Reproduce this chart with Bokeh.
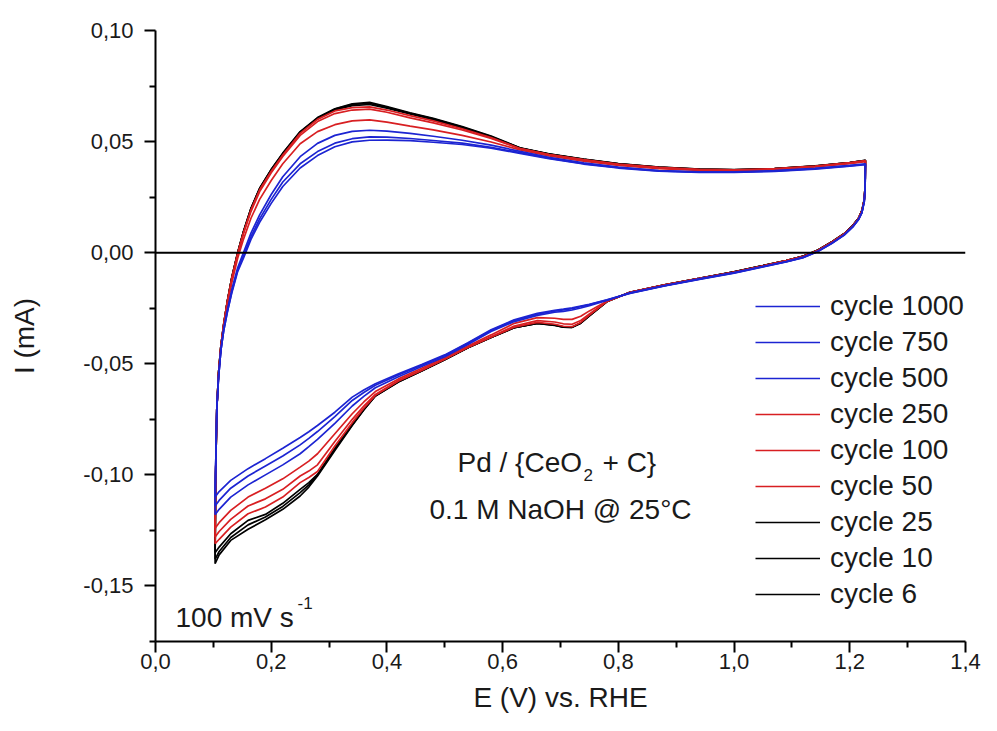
from bokeh.plotting import figure
from bokeh.models import (Range1d, FixedTicker, Span, Label, Legend, LegendItem,
                          CustomJSTickFormatter)
from bokeh.embed import file_html
from bokeh.resources import INLINE

# ---------------- data ----------------
# potential grid of the anodic (forward) sweep, V vs RHE
E_anodic = [0.103, 0.104, 0.106, 0.109, 0.113, 0.118, 0.124, 0.132, 0.142, 0.152,
            0.165, 0.18, 0.20, 0.22, 0.25, 0.28, 0.31, 0.34, 0.37, 0.40,
            0.44, 0.48, 0.53, 0.58, 0.63, 0.68, 0.74, 0.80, 0.87, 0.94,
            1.00, 1.07, 1.14, 1.20, 1.227]
# potential grid of the cathodic (backward) sweep
E_cathodic = [1.227, 1.2265, 1.225, 1.221, 1.215, 1.205, 1.19, 1.17, 1.145, 1.12,
              1.09, 1.05, 1.00, 0.94, 0.88, 0.82, 0.78, 0.75, 0.735, 0.72,
              0.705, 0.69, 0.66, 0.62, 0.58, 0.54, 0.50, 0.46, 0.42, 0.38,
              0.36, 0.34, 0.31, 0.28, 0.265, 0.25, 0.22, 0.19, 0.16, 0.13,
              0.11, 0.103]

cycles = ["cycle 1000", "cycle 750", "cycle 500", "cycle 250", "cycle 100",
          "cycle 50", "cycle 25", "cycle 10", "cycle 6"]
colors = ["#1c24d2", "#1c24d2", "#1c24d2", "#d81f22", "#d81f22", "#d81f22",
          "#000000", "#000000", "#000000"]

I_anodic_1000 = [-0.110, -0.096, -0.070, -0.056, -0.044, -0.035, -0.027, -0.0180, -0.0085, -0.0025,
                 0.0060, 0.0137, 0.0222, 0.0298, 0.0381, 0.0437, 0.0477, 0.0499, 0.0506, 0.0507,
                 0.0504, 0.0497, 0.0487, 0.0470, 0.0447, 0.0423, 0.0399, 0.0381, 0.0367, 0.0361,
                 0.0361, 0.0366, 0.0376, 0.0389, 0.0396]
I_anodic_750 = [-0.114, -0.096, -0.070, -0.056, -0.044, -0.035, -0.027, -0.0175, -0.0078, -0.0015,
                0.0072, 0.0152, 0.0240, 0.0318, 0.0400, 0.0455, 0.0493, 0.0513, 0.0521, 0.0520,
                0.0514, 0.0505, 0.0493, 0.0474, 0.0450, 0.0425, 0.0401, 0.0383, 0.0368, 0.0362,
                0.0362, 0.0367, 0.0378, 0.0391, 0.0398]
I_anodic_500 = [-0.118, -0.097, -0.070, -0.056, -0.044, -0.034, -0.026, -0.0165, -0.0068, 0.0000,
                0.0088, 0.0170, 0.0262, 0.0342, 0.0432, 0.0492, 0.0528, 0.0546, 0.0551, 0.0547,
                0.0537, 0.0524, 0.0506, 0.0484, 0.0456, 0.0429, 0.0404, 0.0385, 0.0370, 0.0364,
                0.0364, 0.0369, 0.0380, 0.0393, 0.0400]
I_anodic_250 = [-0.124, -0.098, -0.070, -0.055, -0.043, -0.033, -0.024, -0.0135, -0.0025, 0.0060,
                0.0155, 0.0240, 0.0325, 0.0400, 0.0490, 0.0545, 0.0576, 0.0593, 0.0598, 0.0588,
                0.0570, 0.0553, 0.0528, 0.0498, 0.0463, 0.0436, 0.0412, 0.0393, 0.0378, 0.0370,
                0.0369, 0.0374, 0.0386, 0.0401, 0.0410]
I_anodic_100 = [-0.128, -0.099, -0.070, -0.055, -0.042, -0.032, -0.0225, -0.0118, -0.0008, 0.0085,
                0.0185, 0.0275, 0.0360, 0.0433, 0.0528, 0.0590, 0.0626, 0.0642, 0.0646, 0.0632,
                0.0607, 0.0584, 0.0552, 0.0514, 0.0468, 0.0441, 0.0417, 0.0397, 0.0382, 0.0373,
                0.0371, 0.0376, 0.0388, 0.0403, 0.0413]
I_anodic_50 = [-0.131, -0.099, -0.070, -0.054, -0.042, -0.032, -0.0222, -0.0113, -0.0003, 0.0090,
               0.0193, 0.0283, 0.0367, 0.0440, 0.0537, 0.0600, 0.0638, 0.0653, 0.0656, 0.0642,
               0.0617, 0.0593, 0.0558, 0.0518, 0.0469, 0.0442, 0.0419, 0.0399, 0.0384, 0.0375,
               0.0373, 0.0378, 0.0390, 0.0405, 0.0415]
I_anodic_25 = [-0.135, -0.100, -0.070, -0.054, -0.042, -0.032, -0.0221, -0.0111, -0.0001, 0.0093,
               0.0197, 0.0287, 0.0371, 0.0444, 0.0541, 0.0604, 0.0643, 0.0662, 0.0667, 0.0650,
               0.0624, 0.0599, 0.0563, 0.0522, 0.0471, 0.0444, 0.0420, 0.0400, 0.0384, 0.0375,
               0.0373, 0.0378, 0.0390, 0.0405, 0.0415]
I_anodic_10 = [-0.138, -0.100, -0.070, -0.054, -0.042, -0.032, -0.0220, -0.0110, 0.0000, 0.0094,
               0.0199, 0.0289, 0.0373, 0.0446, 0.0543, 0.0606, 0.0646, 0.0667, 0.0672, 0.0654,
               0.0627, 0.0602, 0.0565, 0.0523, 0.0471, 0.0444, 0.0420, 0.0400, 0.0385, 0.0376,
               0.0373, 0.0378, 0.0390, 0.0405, 0.0416]
I_anodic_6 = [-0.140, -0.100, -0.070, -0.054, -0.042, -0.032, -0.0220, -0.0110, 0.0000, 0.0095,
              0.0200, 0.0290, 0.0375, 0.0448, 0.0545, 0.0608, 0.0648, 0.0670, 0.0677, 0.0658,
              0.0630, 0.0605, 0.0568, 0.0525, 0.0472, 0.0445, 0.0421, 0.0401, 0.0385, 0.0376,
              0.0374, 0.0379, 0.0391, 0.0406, 0.0416]

I_cathodic_1000 = [0.0396, 0.029, 0.023, 0.018, 0.0148, 0.0115, 0.0078, 0.0043, 0.0005, -0.0022,
                   -0.0042, -0.0064, -0.0092, -0.0120, -0.0150, -0.0183, -0.0212, -0.0232, -0.0240, -0.0248,
                   -0.0254, -0.0259, -0.0273, -0.0302, -0.0347, -0.0405, -0.0460, -0.0503, -0.0545, -0.0590,
                   -0.0618, -0.0650, -0.0718, -0.0778, -0.0806, -0.0832, -0.0880, -0.0927, -0.0972, -0.1025,
                   -0.1075, -0.1100]
I_cathodic_750 = [0.0398, 0.029, 0.023, 0.018, 0.0149, 0.0116, 0.0079, 0.0044, 0.0006, -0.0021,
                  -0.0041, -0.0063, -0.0091, -0.0119, -0.0149, -0.0182, -0.0213, -0.0234, -0.0243, -0.0252,
                  -0.0258, -0.0263, -0.0277, -0.0305, -0.0350, -0.0408, -0.0463, -0.0507, -0.0550, -0.0597,
                  -0.0629, -0.0665, -0.0738, -0.0805, -0.0836, -0.0865, -0.0915, -0.0960, -0.1005, -0.1060,
                  -0.1115, -0.1140]
I_cathodic_500 = [0.0400, 0.029, 0.023, 0.018, 0.0150, 0.0117, 0.0080, 0.0045, 0.0007, -0.0020,
                  -0.0040, -0.0062, -0.0090, -0.0118, -0.0148, -0.0181, -0.0215, -0.0238, -0.0249, -0.0258,
                  -0.0264, -0.0268, -0.0282, -0.0310, -0.0355, -0.0413, -0.0468, -0.0512, -0.0558, -0.0608,
                  -0.0647, -0.0690, -0.0768, -0.0840, -0.0873, -0.0905, -0.0955, -0.1000, -0.1045, -0.1100,
                  -0.1155, -0.1180]
I_cathodic_250 = [0.0410, 0.0295, 0.0235, 0.0185, 0.0152, 0.0119, 0.0082, 0.0047, 0.0009, -0.0018,
                  -0.0038, -0.0061, -0.0089, -0.0118, -0.0147, -0.0180, -0.0218, -0.0262, -0.0286, -0.0300,
                  -0.0300, -0.0295, -0.0292, -0.0318, -0.0370, -0.0420, -0.0472, -0.0520, -0.0568, -0.0625,
                  -0.0672, -0.0725, -0.0815, -0.0905, -0.0938, -0.0965, -0.1018, -0.1060, -0.1100, -0.1160,
                  -0.1215, -0.1240]
I_cathodic_100 = [0.0413, 0.0297, 0.0237, 0.0187, 0.0153, 0.0120, 0.0083, 0.0048, 0.0010, -0.0017,
                  -0.0037, -0.0060, -0.0088, -0.0117, -0.0146, -0.0179, -0.0219, -0.0276, -0.0305, -0.0322,
                  -0.0320, -0.0312, -0.0306, -0.0330, -0.0378, -0.0425, -0.0478, -0.0527, -0.0575, -0.0638,
                  -0.0690, -0.0750, -0.0850, -0.0955, -0.0983, -0.1005, -0.1065, -0.1108, -0.1140, -0.1200,
                  -0.1255, -0.1280]
I_cathodic_50 = [0.0415, 0.0298, 0.0238, 0.0188, 0.0154, 0.0121, 0.0084, 0.0049, 0.0011, -0.0016,
                 -0.0036, -0.0059, -0.0087, -0.0116, -0.0145, -0.0178, -0.0220, -0.0281, -0.0314, -0.0333,
                 -0.0331, -0.0322, -0.0314, -0.0335, -0.0381, -0.0427, -0.0480, -0.0530, -0.0578, -0.0642,
                 -0.0700, -0.0765, -0.0870, -0.0985, -0.1012, -0.1035, -0.1100, -0.1145, -0.1175, -0.1235,
                 -0.1290, -0.1310]
I_cathodic_25 = [0.0415, 0.0299, 0.0239, 0.0189, 0.0155, 0.0122, 0.0085, 0.0050, 0.0012, -0.0015,
                 -0.0035, -0.0058, -0.0086, -0.0116, -0.0145, -0.0178, -0.0220, -0.0283, -0.0316, -0.0335,
                 -0.0334, -0.0325, -0.0317, -0.0337, -0.0382, -0.0428, -0.0481, -0.0531, -0.0580, -0.0644,
                 -0.0705, -0.0772, -0.0880, -0.0998, -0.1035, -0.1065, -0.1128, -0.1178, -0.1205, -0.1265,
                 -0.1325, -0.1350]
I_cathodic_10 = [0.0416, 0.0300, 0.0240, 0.0190, 0.0155, 0.0122, 0.0085, 0.0050, 0.0012, -0.0015,
                 -0.0035, -0.0058, -0.0086, -0.0116, -0.0145, -0.0178, -0.0221, -0.0284, -0.0317, -0.0336,
                 -0.0335, -0.0326, -0.0318, -0.0338, -0.0382, -0.0428, -0.0482, -0.0532, -0.0581, -0.0645,
                 -0.0707, -0.0776, -0.0885, -0.1000, -0.1045, -0.1080, -0.1142, -0.1190, -0.1225, -0.1282,
                 -0.1345, -0.1380]
I_cathodic_6 = [0.0416, 0.0300, 0.0240, 0.0190, 0.0155, 0.0122, 0.0085, 0.0050, 0.0012, -0.0015,
                -0.0035, -0.0058, -0.0086, -0.0116, -0.0145, -0.0178, -0.0221, -0.0284, -0.0317, -0.0336,
                -0.0335, -0.0327, -0.0318, -0.0338, -0.0382, -0.0428, -0.0482, -0.0532, -0.0582, -0.0645,
                -0.0708, -0.0778, -0.0890, -0.1005, -0.1055, -0.1095, -0.1155, -0.1202, -0.1245, -0.1295,
                -0.1360, -0.1400]

anodic = [I_anodic_1000, I_anodic_750, I_anodic_500, I_anodic_250, I_anodic_100,
          I_anodic_50, I_anodic_25, I_anodic_10, I_anodic_6]
cathodic = [I_cathodic_1000, I_cathodic_750, I_cathodic_500, I_cathodic_250, I_cathodic_100,
            I_cathodic_50, I_cathodic_25, I_cathodic_10, I_cathodic_6]

x_ticks = [0.0, 0.2, 0.4, 0.6, 0.8, 1.0, 1.2, 1.4]
x_tick_labels = ["0,0", "0,2", "0,4", "0,6", "0,8", "1,0", "1,2", "1,4"]
x_minor = [0.1, 0.3, 0.5, 0.7, 0.9, 1.1, 1.3]
y_ticks = [-0.15, -0.10, -0.05, 0.0, 0.05, 0.10]
y_tick_labels = ["-0,15", "-0,10", "-0,05", "0,00", "0,05", "0,10"]
y_minor = [-0.175, -0.125, -0.075, -0.025, 0.025, 0.075]

FONT = "Liberation Sans"

# ---------------- figure ----------------
p = figure(width=981, height=715, output_backend="svg", toolbar_location=None,
           x_range=Range1d(0, 1.4), y_range=Range1d(-0.175, 0.10),
           min_border_left=155, min_border_right=16, min_border_top=30,
           min_border_bottom=73)
p.outline_line_color = None
p.grid.visible = False
p.background_fill_color = "white"

fmt_js = """
let k = -1;
for (let j = 0; j < tvals.length; j++) { if (Math.abs(tvals[j] - tick) < 1e-9) { k = j; } }
return k >= 0 ? tlabels[k] : '';
"""
p.xaxis.ticker = FixedTicker(ticks=x_ticks, minor_ticks=x_minor)
p.xaxis.formatter = CustomJSTickFormatter(args=dict(tvals=x_ticks, tlabels=x_tick_labels), code=fmt_js)
p.yaxis.ticker = FixedTicker(ticks=y_ticks, minor_ticks=y_minor)
p.yaxis.formatter = CustomJSTickFormatter(args=dict(tvals=y_ticks, tlabels=y_tick_labels), code=fmt_js)

for ax in (p.xaxis, p.yaxis):
    ax.axis_line_width = 2
    ax.axis_line_color = "black"
    ax.major_tick_line_width = 2
    ax.minor_tick_line_width = 2
    ax.major_tick_out = 11
    ax.major_tick_in = 0
    ax.minor_tick_out = 6
    ax.minor_tick_in = 0
    ax.major_label_text_font = FONT
    ax.major_label_text_font_size = "22px"
    ax.major_label_text_color = "#1a1a1a"
    ax.axis_label_text_font = FONT
    ax.axis_label_text_font_size = "28px"
    ax.axis_label_text_font_style = "normal"
    ax.axis_label_text_color = "#1a1a1a"
p.xaxis.major_label_standoff = 1
p.yaxis.major_label_standoff = 11

p.yaxis.axis_label = "I (mA)"
p.yaxis.axis_label_standoff = 40
p.xaxis.axis_label = "E (V) vs. RHE"
p.xaxis.axis_label_standoff = 10

p.add_layout(Span(location=0, dimension="width", line_color="black", line_width=2))

renderers = {}
order = list(range(len(cycles)))[::-1]   # draw black first, blue on top
for k in order:
    xs = E_anodic + E_cathodic
    ys = anodic[k] + cathodic[k]
    r = p.line(xs, ys, line_color=colors[k], line_width=1.7)
    renderers[k] = r

items = [LegendItem(label=cycles[k], renderers=[renderers[k]]) for k in range(len(cycles))]
legend = Legend(items=items, location=(600, 31), glyph_width=65, glyph_height=32,
                label_height=32, spacing=4, padding=0, margin=0,
                border_line_color=None, background_fill_alpha=0,
                label_text_font=FONT, label_text_font_size="28px",
                label_text_color="#1a1a1a", label_standoff=10)
p.add_layout(legend)

def lab(x, y, text, size="28px", align="left", style="normal"):
    p.add_layout(Label(x=x, y=y, text=text, text_font=FONT, text_font_size=size,
                       text_align=align, text_baseline="alphabetic",
                       text_color="#1a1a1a", text_font_style=style))

# annotation inside the plot
lab(0.522, -0.0946, "Pd / {CeO")
lab(0.7398, -0.1000, "2", size="17px")
lab(0.7726, -0.0946, "+ C}")
lab(0.700, -0.1157, "0.1 M NaOH @ 25°C", align="center")
lab(0.0346, -0.1642, "100 mV s")
lab(0.2454, -0.1575, "-1", size="17px")

open("out.html", "w").write(file_html(p, INLINE))
